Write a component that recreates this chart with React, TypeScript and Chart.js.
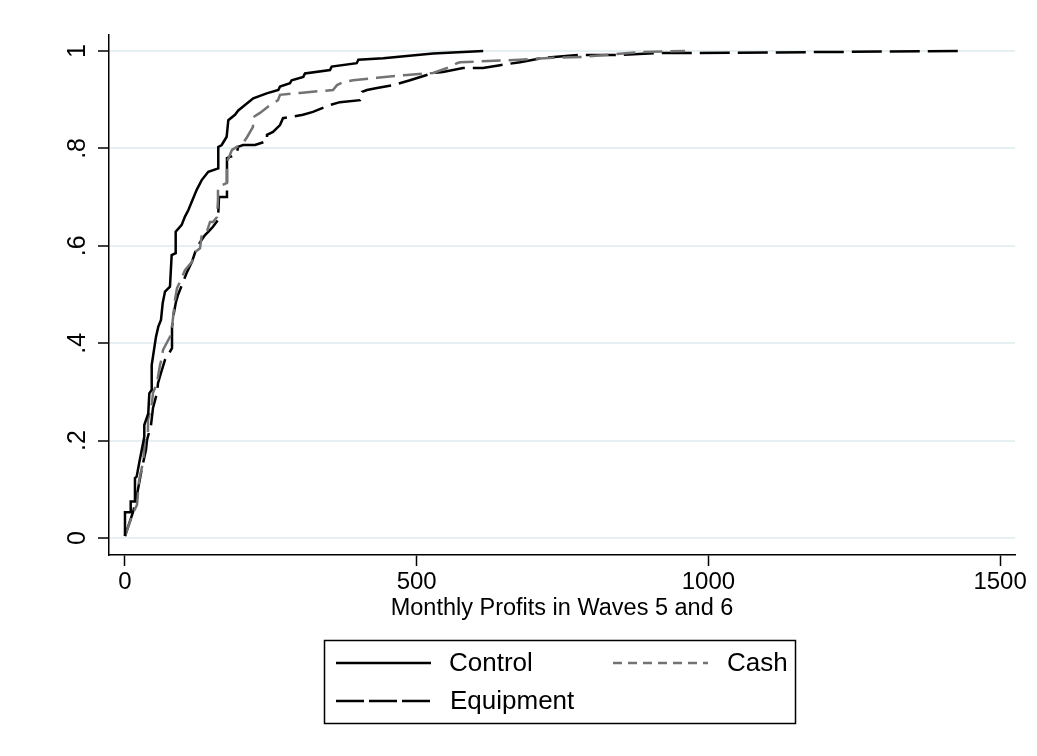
import React, { useEffect, useRef } from "react";
import { Chart, registerables } from "chart.js";

Chart.register(...registerables);

const seriesLabels = ["Control", "Cash", "Equipment"];

const controlX = [0, 0, 9.8, 9.8, 15.9, 17.1, 20, 24.5, 29.7, 33.1, 33.1, 39.9, 41.7, 45.8, 45.8, 49.7, 53.1, 57.1, 61.7, 64.6, 68.6, 77.1, 80, 86.9, 86.9, 97.2, 102.8, 108.5, 117.1, 122.9, 131.5, 142.8, 159.9, 159.9, 165.8, 174.3, 177.1, 188.5, 194.2, 205.7, 219.9, 242.9, 262.8, 265.7, 282.8, 285.7, 305.6, 308.5, 351.4, 354.3, 397.2, 400, 442.8, 482.9, 528, 614];
const controlY = [0.004, 0.053, 0.053, 0.075, 0.075, 0.123, 0.126, 0.155, 0.187, 0.208, 0.232, 0.256, 0.297, 0.304, 0.355, 0.386, 0.413, 0.434, 0.448, 0.482, 0.506, 0.516, 0.581, 0.585, 0.629, 0.643, 0.66, 0.673, 0.698, 0.715, 0.735, 0.752, 0.759, 0.803, 0.807, 0.824, 0.858, 0.869, 0.878, 0.889, 0.903, 0.913, 0.92, 0.927, 0.934, 0.94, 0.947, 0.954, 0.961, 0.968, 0.975, 0.982, 0.985, 0.99, 0.995, 1.0];

const cashX = [0, 13.7, 20.6, 24, 30.9, 34.3, 39.4, 39.4, 46.3, 48, 54.9, 56.6, 60, 63.4, 65.1, 77.1, 80.6, 85.7, 89.1, 94.3, 102.8, 114.8, 120, 128.6, 132, 140.6, 145.7, 150.8, 157.7, 159.4, 159.4, 174.8, 174.8, 183.4, 202.3, 209.1, 219.4, 219.4, 231.4, 248.5, 262.3, 265.7, 300, 356.5, 363.4, 373.7, 390.8, 432, 483.4, 528, 557, 569, 574.2, 677, 733.6, 785, 882.8, 960];
const cashY = [0.004, 0.051, 0.068, 0.117, 0.156, 0.201, 0.209, 0.242, 0.277, 0.298, 0.318, 0.331, 0.355, 0.37, 0.386, 0.413, 0.433, 0.489, 0.513, 0.526, 0.55, 0.567, 0.587, 0.595, 0.626, 0.63, 0.649, 0.649, 0.659, 0.694, 0.721, 0.729, 0.772, 0.797, 0.811, 0.823, 0.844, 0.864, 0.873, 0.889, 0.899, 0.91, 0.914, 0.92, 0.93, 0.936, 0.94, 0.945, 0.951, 0.955, 0.967, 0.975, 0.977, 0.982, 0.986, 0.988, 0.998, 1.0];

const equipmentX = [0, 13.7, 18.9, 24, 29.1, 36, 37.7, 44.6, 48, 54.9, 56.6, 61.7, 68.6, 72, 80.6, 80.6, 82.3, 87.4, 90.8, 97.7, 106.3, 114.8, 123.4, 137.1, 142.3, 150.8, 159.4, 161.1, 174.8, 174.8, 183.4, 192, 193.7, 202.3, 222.8, 243.4, 243.4, 253.7, 265.7, 270.8, 305.1, 322.3, 351.4, 368.5, 402.8, 406.2, 414.8, 432, 459.4, 488.5, 528, 545, 579.4, 613.6, 642.8, 677, 716.5, 780, 848.5, 917, 980, 1435];
const equipmentY = [0.004, 0.053, 0.078, 0.111, 0.144, 0.181, 0.201, 0.232, 0.267, 0.298, 0.318, 0.339, 0.366, 0.372, 0.39, 0.433, 0.452, 0.485, 0.499, 0.52, 0.546, 0.567, 0.598, 0.622, 0.628, 0.639, 0.653, 0.7, 0.7, 0.78, 0.784, 0.791, 0.803, 0.807, 0.807, 0.815, 0.828, 0.834, 0.848, 0.862, 0.869, 0.875, 0.889, 0.895, 0.899, 0.916, 0.92, 0.924, 0.93, 0.94, 0.955, 0.957, 0.965, 0.965, 0.971, 0.977, 0.986, 0.992, 0.992, 0.996, 0.996, 1.0];

const xTicks = [0, 500, 1000, 1500];
const yTicks = [0, 0.2, 0.4, 0.6, 0.8, 1];
const yTickLabels = ["0", ".2", ".4", ".6", ".8", "1"];
const xAxisTitle = "Monthly Profits in Waves 5 and 6";

const FONT = "'Liberation Sans', Arial, Helvetica, sans-serif";
const COLORS = ["#000000", "#737373", "#000000"];
const DASHES: number[][] = [[], [19, 8], [30, 8]];
const LEGEND_DASHES: number[][] = [[], [9, 6], [28, 5]];

const toPoints = (xs: number[], ys: number[]) => xs.map((x, i) => ({ x, y: ys[i] }));

const yLabelPlugin = {
  id: "yRotatedLabels",
  afterDraw(chart: any) {
    const ctx = chart.ctx;
    const ys = chart.scales.y;
    ctx.save();
    ctx.font = `25px ${FONT}`;
    ctx.fillStyle = "#000";
    ctx.textAlign = "center";
    ctx.textBaseline = "middle";
    yTicks.forEach((v, i) => {
      const py = ys.getPixelForValue(v);
      ctx.save();
      ctx.translate(78, py);
      ctx.rotate(-Math.PI / 2);
      ctx.fillText(yTickLabels[i], 0, 0);
      ctx.restore();
    });
    ctx.restore();
  },
};

const legendPlugin = {
  id: "boxLegend",
  afterDraw(chart: any) {
    const ctx = chart.ctx;
    ctx.save();
    ctx.strokeStyle = "#000";
    ctx.lineWidth = 1.5;
    ctx.strokeRect(324.5, 640.5, 471, 83);
    const slots = [
      { lx: 336, y: 663, tx: 449 },
      { lx: 613, y: 663, tx: 727 },
      { lx: 336, y: 701, tx: 450 },
    ];
    ctx.font = `26px ${FONT}`;
    ctx.textBaseline = "middle";
    ctx.textAlign = "left";
    chart.data.datasets.forEach((ds: any, i: number) => {
      const s = slots[i];
      ctx.beginPath();
      ctx.setLineDash(LEGEND_DASHES[i]);
      ctx.strokeStyle = ds.borderColor;
      ctx.lineWidth = 2.4;
      ctx.moveTo(s.lx, s.y);
      ctx.lineTo(s.lx + 95, s.y);
      ctx.stroke();
      ctx.setLineDash([]);
      ctx.fillStyle = "#000";
      ctx.fillText(ds.label, s.tx, s.y + 1);
    });
    ctx.restore();
  },
};

export default function App() {
  const ref = useRef<HTMLCanvasElement | null>(null);

  useEffect(() => {
    if (!ref.current) return;
    const series = [
      toPoints(controlX, controlY),
      toPoints(cashX, cashY),
      toPoints(equipmentX, equipmentY),
    ];
    const chart = new Chart(ref.current, {
      type: "scatter",
      data: {
        datasets: series.map((pts, i) => ({
          label: seriesLabels[i],
          data: pts,
          showLine: true,
          borderColor: COLORS[i],
          backgroundColor: COLORS[i],
          borderWidth: 2.5,
          borderDash: DASHES[i],
          pointRadius: 0,
          pointHoverRadius: 0,
          tension: 0,
        })),
      },
      options: {
        animation: false,
        responsive: false,
        maintainAspectRatio: false,
        devicePixelRatio: 1,
        layout: { padding: { left: 0, top: 35, right: 22, bottom: 0 } },
        plugins: {
          legend: { display: false },
          tooltip: { enabled: false },
        },
        scales: {
          x: {
            type: "linear",
            min: -27.4,
            max: 1525.5,
            afterBuildTicks: (scale: any) => {
              scale.ticks = xTicks.map((v) => ({ value: v }));
            },
            afterFit: (scale: any) => {
              scale.height = 201;
            },
            grid: {
              drawOnChartArea: false,
              drawTicks: true,
              tickLength: 11,
              tickColor: "#000",
              tickWidth: 1.5,
            },
            border: { display: true, color: "#000", width: 1.5 },
            ticks: {
              color: "#000",
              font: { family: FONT, size: 24 },
              padding: 2,
              maxRotation: 0,
              callback: (v: any) => String(v),
            },
            title: {
              display: true,
              text: xAxisTitle,
              color: "#000",
              font: { family: FONT, size: 23.5 },
              padding: { top: 0, bottom: 133 },
            },
          },
          y: {
            type: "linear",
            min: -0.0349,
            max: 1.0329,
            afterBuildTicks: (scale: any) => {
              scale.ticks = yTicks.map((v) => ({ value: v }));
            },
            afterFit: (scale: any) => {
              scale.width = 109;
            },
            grid: {
              drawOnChartArea: true,
              color: "#e6eff1",
              lineWidth: 2,
              drawTicks: true,
              tickLength: 11,
              tickColor: "#000",
              tickWidth: 1.5,
            },
            border: { display: true, color: "#000", width: 1.5 },
            ticks: {
              color: "rgba(0,0,0,0)",
              font: { family: FONT, size: 24 },
              callback: (v: any) => String(v),
            },
          },
        },
      },
      plugins: [yLabelPlugin, legendPlugin],
    });
    return () => chart.destroy();
  }, []);

  return (
    <div style={{ position: "absolute", left: 0, top: 0, width: 1037, height: 756, background: "#fff" }}>
      <canvas ref={ref} width={1037} height={756} style={{ width: 1037, height: 756, display: "block" }} />
    </div>
  );
}
